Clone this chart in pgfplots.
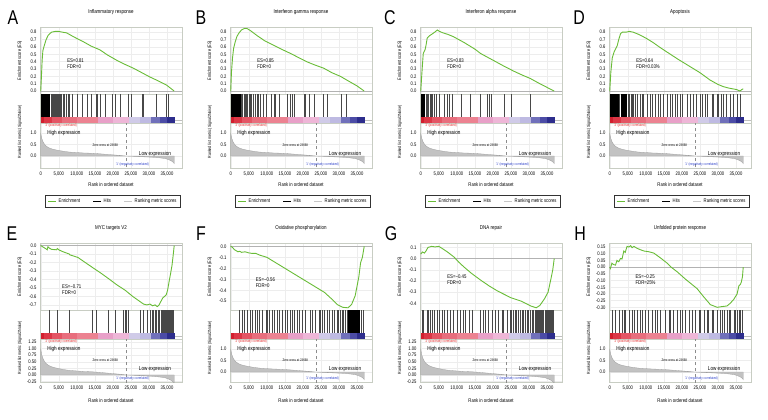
\documentclass[border=0pt]{standalone}
\usepackage{fontspec}
\setmainfont[FakeStretch=0.8]{Liberation Sans}
\usepackage{pgfplots}
\pgfplotsset{compat=1.18}
\usepackage{pgfplotstable}

\newcommand\fs[1]{\fontsize{#1}{#1}\selectfont}
\definecolor{esg}{RGB}{105,188,55}
\definecolor{frame}{RGB}{200,205,195}
\definecolor{poscol}{RGB}{225,40,40}
\definecolor{negcol}{RGB}{40,60,200}
\definecolor{b1}{RGB}{210,30,45}
\definecolor{b2}{RGB}{220,55,70}
\definecolor{b3}{RGB}{228,85,100}
\definecolor{b4}{RGB}{232,110,125}
\definecolor{b5}{RGB}{236,130,145}
\definecolor{b6}{RGB}{232,160,200}
\definecolor{b7}{RGB}{238,182,215}
\definecolor{b8}{RGB}{208,203,232}
\definecolor{b9}{RGB}{190,186,226}
\definecolor{b10}{RGB}{112,112,186}
\definecolor{b11}{RGB}{76,76,166}
\definecolor{b12}{RGB}{45,45,140}

\pgfplotstableread{
x y
0 0
0 1.0
0.1 0.9
0.3 0.76
0.6 0.63
1.0 0.52
1.5 0.43
2.2 0.36
3.0 0.31
4.0 0.27
5.0 0.24
6.5 0.2
8.0 0.17
10 0.15
12 0.13
14 0.12
16 0.1
18 0.075
20 0.05
22 0.025
23.668 0
25 -0.01
27 -0.025
29 -0.04
31 -0.055
33 -0.08
34.5 -0.11
35.5 -0.16
36.3 -0.22
36.8 -0.28
37 -0.33
37 0
}\rankdata

\pgfplotsset{
 gsbase/.style={scale only axis, width=142bp, xmin=-0.2, xmax=39.16, axis line style={frame},
   major tick length=0pt, xtick={0,5,10,15,20,25,30,35}, tick label style={font=\fs{5.2}},
   /pgf/number format/assume math mode=true, anchor=north west},
 esax/.style 2 args={gsbase, at={(#1bp+40bp,-#2bp-27bp)}, height=67bp, xticklabels={},
   grid=major, grid style={black!7}, ylabel={Enrichment score (ES)},
   ylabel style={font=\fs{4.9}, at={(axis description cs:-0.141,0.5)}, anchor=center},
   yticklabel style={/pgf/number format/.cd, fixed, fixed zerofill, precision=1},
   title style={font=\fs{5.6}, at={(axis description cs:0.5,1)}, anchor=center, yshift=9bp}},
 hitax/.style 2 args={gsbase, at={(#1bp+40bp,-#2bp-94bp)}, height=29bp, xticklabels={},
   ymin=-0.26, ymax=1, ytick=\empty},
 rankax/.style n args={3}{gsbase, at={(#1bp+40bp,-#2bp-123bp)}, height=#3,
   xticklabels={0,{5,000},{10,000},{15,000},{20,000},{25,000},{30,000},{35,000}},
   grid=major, grid style={black!7}, xlabel={Rank in ordered dataset},
   ylabel={Ranked list metric (Signal2Noise)},
   ylabel style={font=\fs{4.5}, at={(axis description cs:-0.141,0.8)}, anchor=center}},
 toprank/.style 2 args={rankax={#1}{#2}{45bp}, ymin=-0.52, ymax=1.43, ytick={0,0.5,1},
   yticklabel style={/pgf/number format/.cd, fixed, fixed zerofill, precision=1},
   xlabel style={font=\fs{5.3}, at={(axis description cs:0.5,-0.38)}, anchor=center},
   legend style={at={(0.514,-0.6)}, anchor=north, legend columns=3, draw=black!80, line width=0.6bp,
     font=\fs{5.3}, inner xsep=2bp, inner ysep=1.5bp,
     /tikz/every even column/.append style={column sep=11bp}}},
 botrankA/.style 2 args={rankax={#1}{#2}{43bp}, ymin=-0.27, ymax=1.365,
   ytick={-0.25,0,0.25,0.5,0.75,1,1.25},
   yticklabel style={/pgf/number format/.cd, fixed, fixed zerofill, precision=2},
   xlabel style={font=\fs{5.3}, at={(axis description cs:0.5,-0.44)}, anchor=center}},
 botrankB/.style 2 args={rankax={#1}{#2}{43bp}, ymin=-0.43, ymax=1.43, ytick={0,0.5,1},
   yticklabel style={/pgf/number format/.cd, fixed, fixed zerofill, precision=1},
   xlabel style={font=\fs{5.3}, at={(axis description cs:0.5,-0.44)}, anchor=center}},
 esline/.style={esg, line width=0.9bp},
 hitline/.style={ycomb, black!72, line width=0.4bp},
}

\newcommand\zeroline{\addplot[black!30, line width=0.4bp] coordinates {(-0.2,0)(39.16,0)};}
\newcommand\blk[2]{\addplot[fill=black, draw=none] coordinates {(#1,0)(#2,0)(#2,1)(#1,1)} -- cycle;}
\newcommand\bb[3]{\addplot[fill=#3, draw=none] coordinates {(#1,-0.26)(#2,-0.26)(#2,0)(#1,0)} -- cycle;}
\newcommand\band{%
 \addplot[black!25, line width=0.3bp] coordinates {(37.2,-0.13)(39.16,-0.13)};
 \bb{0}{1}{b1}\bb{1}{3}{b2}\bb{3}{6}{b3}\bb{6}{10}{b4}\bb{10}{16}{b5}\bb{16}{20}{b6}
 \bb{20}{24.4}{b7}\bb{24.4}{27.5}{b8}\bb{27.5}{30.5}{b9}\bb{30.5}{33}{b10}\bb{33}{35}{b11}\bb{35}{37.2}{b12}}
\newcommand\rankcontent{%
 \addplot[fill=black!24, draw=black!38, line width=0.3bp, forget plot] table {\rankdata} -- cycle;
 \addplot[black!45, dashed, line width=0.3bp, forget plot] coordinates {(23.668,-1)(23.668,2)};
 \node[anchor=north west, font=\fs{3.7}, text=poscol, inner sep=0.5bp] at (rel axis cs:0.03,1) {'2' (positively correlated)};
 \node[anchor=west, font=\fs{5.8}, inner sep=0pt] at (rel axis cs:0.05,0.775) {High expression};
 \node[font=\fs{3.6}, inner sep=0pt] at (rel axis cs:0.46,0.5) {Zero cross at 23668};
 \node[font=\fs{5.8}, inner sep=0pt] at (rel axis cs:0.81,0.3) {Low expression};
 \node[font=\fs{3.7}, text=negcol, inner sep=0pt] at (rel axis cs:0.65,0.07) {'1' (negatively correlated)};}
\newcommand\legendentries{%
 \addlegendimage{legend image code/.code={\draw[draw=esg, line width=1.2bp] (0bp,0bp) -- (8bp,0bp);}}\addlegendentry{Enrichment}
 \addlegendimage{legend image code/.code={\draw[draw=black, line width=0.7bp] (0bp,0bp) -- (8bp,0bp);}}\addlegendentry{Hits}
 \addlegendimage{legend image code/.code={\draw[draw=black!22, line width=0.7bp] (0bp,0bp) -- (8bp,0bp);}}\addlegendentry{Ranking metric scores}}
\newcommand\estext[3]{\node[anchor=west, align=left, font=\fontsize{5.4}{6.3}\selectfont, inner sep=0pt] at (axis cs:#1,#2) {#3};}

\begin{document}
\begin{tikzpicture}
\useasboundingbox (0,0) rectangle (768bp,-420bp);
\foreach \L/\X/\Y in {A/13/17.5,B/201/17.5,C/390/17.5,D/579/17.5,E/12/233.5,F/201/233.5,G/391/233.5,H/580/233.5}
  \node[font=\fs{20}, inner sep=0pt] at (\X bp,-\Y bp) {\L};

% ---------------- A ----------------
\begin{axis}[esax={0}{0}, ymin=-0.04, ymax=0.87, ytick={0,0.1,0.2,0.3,0.4,0.5,0.6,0.7,0.8}, title={Inflammatory response}]
\zeroline
\addplot[esline] coordinates {(0,0)(0.2,0.2)(0.4,0.42)(0.6,0.55)(1,0.62)(1.5,0.7)(2.1,0.76)(3,0.8)(4,0.81)(5,0.81)(6,0.8)(7.2,0.79)(9,0.74)(11.8,0.67)(14,0.61)(16.4,0.56)(18.5,0.49)(21,0.42)(23,0.37)(25.7,0.31)(28,0.25)(30.3,0.19)(32.5,0.14)(34.9,0.08)(37,0)};
\estext{7.3}{0.37}{ES=0.81\\FDR=0}
\end{axis}
\begin{axis}[hitax={0}{0}]
\blk{0}{2.6}
\addplot[hitline] coordinates {(2.8,1)(3.0,1)(3.2,1)(3.5,1)(3.7,1)(3.9,1)(4.1,1)(4.3,1)(4.6,1)(4.9,1)(5.0,1)(5.3,1)(5.6,1)(5.8,1)(6.2,1)(6.6,1)(7.1,1)(7.6,1)(8.0,1)(8.6,1)(10.0,1)(11.4,1)(12.9,1)(14.1,1)(15.3,1)(15.6,1)(16.4,1)(17.8,1)(19.7,1)(20.6,1)(22.0,1)(24.3,1)(25.2,1)(28.0,1)(28.5,1)(32.0,1)(34.9,1)(35.4,1)};
\band
\end{axis}
\begin{axis}[toprank={0}{0}]
\rankcontent
\legendentries
\end{axis}

% ---------------- B ----------------
\begin{axis}[esax={190}{0}, ymin=-0.04, ymax=0.87, ytick={0,0.1,0.2,0.3,0.4,0.5,0.6,0.7,0.8}, title={Interferon gamma response}]
\zeroline
\addplot[esline] coordinates {(0,0)(0.2,0.25)(0.5,0.45)(0.8,0.58)(1.2,0.66)(1.7,0.74)(2.3,0.79)(3,0.83)(3.8,0.85)(4.5,0.85)(5.5,0.82)(7.4,0.75)(9.5,0.68)(12,0.62)(14,0.57)(16.6,0.51)(19,0.45)(21,0.4)(23,0.36)(25.8,0.31)(28,0.25)(30.4,0.2)(32.5,0.14)(35,0.07)(37,0)};
\estext{7.3}{0.37}{ES=0.85\\FDR=0}
\end{axis}
\begin{axis}[hitax={190}{0}]
\blk{0}{2.8}
\addplot[hitline] coordinates {(3.0,1)(3.3,1)(3.6,1)(3.9,1)(4.2,1)(4.6,1)(5.0,1)(5.4,1)(5.8,1)(6.3,1)(6.8,1)(7.2,1)(7.7,1)(8.3,1)(9.0,1)(9.7,1)(11.1,1)(12.0,1)(12.4,1)(13.4,1)(15.7,1)(16.6,1)(17.1,1)(17.5,1)(20.3,1)(20.7,1)(21.7,1)(23.2,1)(25.6,1)(26.7,1)(30.7,1)(32.1,1)};
\band
\end{axis}
\begin{axis}[toprank={190}{0}]
\rankcontent
\legendentries
\end{axis}

% ---------------- C ----------------
\begin{axis}[esax={380}{0}, ymin=-0.04, ymax=0.87, ytick={0,0.1,0.2,0.3,0.4,0.5,0.6,0.7,0.8}, title={Interferon alpha response}]
\zeroline
\addplot[esline] coordinates {(0,0)(0.4,0.3)(0.7,0.51)(1.2,0.56)(1.5,0.63)(1.8,0.72)(2.4,0.75)(2.7,0.76)(3.3,0.78)(3.9,0.8)(4.6,0.83)(5.2,0.81)(6.2,0.79)(7.5,0.77)(9,0.74)(12,0.66)(15,0.57)(16.6,0.51)(20,0.42)(23,0.34)(25.8,0.27)(28,0.22)(30.4,0.17)(33,0.1)(35,0.05)(37,0)};
\estext{7.3}{0.37}{ES=0.83\\FDR=0}
\end{axis}
\begin{axis}[hitax={380}{0}]
\blk{0}{1.2}
\addplot[hitline] coordinates {(1.4,1)(1.6,1)(1.8,1)(2.0,1)(2.2,1)(2.5,1)(2.8,1)(3.2,1)(3.7,1)(4.2,1)(5.1,1)(6.5,1)(7.4,1)(7.8,1)(8.8,1)(11.1,1)(13.6,1)(16.4,1)(18.3,1)(19.0,1)(19.4,1)(23.2,1)(25.2,1)(30.3,1)};
\band
\end{axis}
\begin{axis}[toprank={380}{0}]
\rankcontent
\legendentries
\end{axis}

% ---------------- D ----------------
\begin{axis}[esax={569}{0}, ymin=-0.04, ymax=0.87, ytick={0,0.1,0.2,0.3,0.4,0.5,0.6,0.7,0.8}, title={Apoptosis}]
\zeroline
\addplot[esline] coordinates {(0,0)(0.3,0.25)(0.7,0.45)(1.2,0.53)(1.6,0.57)(2.1,0.62)(2.5,0.7)(3,0.78)(3.5,0.8)(4.5,0.8)(5.5,0.81)(6.5,0.8)(8,0.77)(10,0.72)(12,0.66)(14,0.59)(16.8,0.5)(19,0.43)(22,0.34)(25,0.25)(27.8,0.15)(30,0.09)(31.5,0.06)(33,0.04)(35.2,0.02)(36.1,0)(36.6,0.02)(37,0.03)};
\estext{7.3}{0.37}{ES=0.64\\FDR=0.03\%}
\end{axis}
\begin{axis}[hitax={569}{0}]
\blk{0}{2.5}\blk{3.0}{4.8}
\addplot[hitline] coordinates {(2.7,1)(5.1,1)(5.5,1)(5.9,1)(6.2,1)(6.6,1)(7.1,1)(7.6,1)(8.5,1)(8.9,1)(9.4,1)(10.3,1)(11.2,1)(11.7,1)(12.6,1)(13.5,1)(14.0,1)(14.9,1)(15.8,1)(16.8,1)(17.2,1)(18.1,1)(18.6,1)(19.5,1)(20.0,1)(21.4,1)(22.3,1)(23.2,1)(24.1,1)(25.1,1)(25.5,1)(26.4,1)(26.9,1)(28.3,1)(28.7,1)(29.7,1)(30.1,1)(31.0,1)(31.5,1)(32.4,1)(33.3,1)(34.3,1)(35.2,1)(36.1,1)};
\band
\end{axis}
\begin{axis}[toprank={569}{0}]
\rankcontent
\legendentries
\end{axis}

% ---------------- E ----------------
\begin{axis}[esax={0}{216}, ymin=-0.76, ymax=0.03, ytick={-0.7,-0.6,-0.5,-0.4,-0.3,-0.2,-0.1,0}, title={MYC targets V2}]
\zeroline
\addplot[esline] coordinates {(0,0)(1.5,-0.04)(1.8,-0.05)(2,-0.015)(2.4,-0.03)(3,-0.045)(4.4,-0.05)(4.6,-0.035)(5,-0.05)(6,-0.07)(7.9,-0.1)(8.1,-0.11)(10.3,-0.14)(12,-0.19)(14.4,-0.26)(16.5,-0.32)(18.8,-0.39)(21,-0.46)(23.5,-0.53)(25.5,-0.6)(27.5,-0.66)(28.5,-0.69)(29.4,-0.7)(30.3,-0.69)(31,-0.71)(31.7,-0.7)(32.3,-0.72)(32.8,-0.7)(33.3,-0.66)(33.8,-0.62)(34.3,-0.6)(34.8,-0.58)(35.2,-0.52)(35.6,-0.42)(36,-0.33)(36.4,-0.23)(36.7,-0.12)(37,0)};
\estext{5.9}{-0.52}{ES=−0.71\\FDR=0}
\end{axis}
\begin{axis}[hitax={0}{216}]
\addplot[hitline] coordinates {(2.4,1)(4.6,1)(7.9,1)(14.4,1)(15.5,1)(18.8,1)(20.6,1)(22.9,1)(23.4,1)(23.7,1)(24.3,1)(27.5,1)(28.5,1)(29.4,1)(30.3,1)(30.8,1)(31.3,1)(31.7,1)(32.1,1)(32.5,1)(32.9,1)(33.3,1)(33.6,1)(33.9,1)(34.1,1)(34.4,1)(34.6,1)(34.9,1)(35.1,1)(35.4,1)(35.6,1)(35.9,1)(36.1,1)(36.4,1)(36.6,1)};
\band
\end{axis}
\begin{axis}[botrankA={0}{216}]
\rankcontent
\end{axis}

% ---------------- F ----------------
\begin{axis}[esax={190}{216}, ymin=-0.58, ymax=0.03, ytick={-0.5,-0.4,-0.3,-0.2,-0.1,0}, title={Oxidative phosphorylation}]
\zeroline
\addplot[esline] coordinates {(0,0)(0.5,-0.01)(1,-0.03)(1.5,-0.04)(2,-0.05)(2.5,-0.045)(3,-0.055)(4,-0.05)(5,-0.06)(6,-0.065)(7,-0.065)(8,-0.08)(10,-0.1)(12,-0.14)(15,-0.2)(18,-0.26)(21,-0.32)(24,-0.38)(26,-0.42)(28,-0.48)(29.5,-0.53)(31,-0.555)(32.5,-0.56)(33.5,-0.53)(34.5,-0.45)(35.5,-0.28)(36,-0.15)(36.5,-0.1)(37,0)};
\estext{6.9}{-0.33}{ES=−0.56\\FDR=0}
\end{axis}
\begin{axis}[hitax={190}{216}]
\blk{32.5}{35.8}
\addplot[hitline] coordinates {(2.3,1)(3.2,1)(3.7,1)(4.6,1)(5.5,1)(6.0,1)(6.9,1)(7.4,1)(7.8,1)(8.7,1)(9.7,1)(10.1,1)(10.6,1)(11.5,1)(12.0,1)(12.9,1)(13.4,1)(14.3,1)(15.2,1)(15.7,1)(16.6,1)(17.0,1)(17.5,1)(18.4,1)(18.9,1)(19.8,1)(20.7,1)(22.1,1)(22.6,1)(23.5,1)(24.4,1)(24.9,1)(25.3,1)(25.8,1)(26.7,1)(27.2,1)(28.1,1)(28.6,1)(29.5,1)(29.9,1)(30.4,1)(30.9,1)(31.3,1)(31.8,1)(32.2,1)(36.2,1)(36.6,1)};
\band
\end{axis}
\begin{axis}[botrankB={190}{216}]
\rankcontent
\end{axis}

% ---------------- G ----------------
\begin{axis}[esax={380}{216}, ymin=-0.46, ymax=0.14, ytick={-0.4,-0.3,-0.2,-0.1,0,0.1}, title={DNA repair}]
\zeroline
\addplot[esline] coordinates {(0,0.04)(0.5,0.06)(1,0.05)(1.5,0.07)(2,0.1)(3,0.11)(4,0.105)(5,0.11)(6,0.09)(7.4,0.06)(9.2,0.015)(10.5,-0.03)(12,-0.075)(14,-0.13)(16.5,-0.19)(19,-0.245)(21.3,-0.29)(25,-0.35)(27.8,-0.38)(30.6,-0.425)(32,-0.44)(33,-0.42)(34.3,-0.36)(35.3,-0.3)(36.1,-0.18)(36.6,-0.1)(37,0)};
\estext{7.3}{-0.19}{ES=−0.45\\FDR=0}
\end{axis}
\begin{axis}[hitax={380}{216}]
\addplot[hitline] coordinates {(0.4,1)(0.8,1)(1.7,1)(2.2,1)(2.7,1)(3.1,1)(3.6,1)(4.5,1)(5.0,1)(5.9,1)(6.4,1)(7.3,1)(8.2,1)(9.1,1)(10.0,1)(10.9,1)(11.9,1)(12.3,1)(13.3,1)(14.2,1)(16.6,1)(17.4,1)(17.9,1)(18.8,1)(19.7,1)(20.6,1)(21.6,1)(22.5,1)(22.9,1)(23.9,1)(24.8,1)(25.2,1)(25.7,1)(26.2,1)(26.6,1)(27.1,1)(27.5,1)(28.0,1)(28.5,1)(28.9,1)(29.4,1)(29.8,1)(30.3,1)(30.8,1)(31.3,1)(31.7,1)};
\addplot[hitline, line width=0.55bp] coordinates {(32.0,1)(32.3,1)(32.6,1)(32.9,1)(33.2,1)(33.5,1)(33.8,1)(34.1,1)(34.4,1)(34.7,1)(35.0,1)(35.3,1)(35.6,1)(35.9,1)(36.2,1)(36.5,1)(36.8,1)};
\band
\end{axis}
\begin{axis}[botrankA={380}{216}]
\rankcontent
\end{axis}

% ---------------- H ----------------
\begin{axis}[esax={569}{216}, ymin=-0.32, ymax=0.18, ytick={-0.3,-0.25,-0.2,-0.15,-0.1,-0.05,0,0.05,0.1,0.15}, yticklabel style={/pgf/number format/precision=2}, title={Unfolded protein response}]
\zeroline
\addplot[esline] coordinates {(0,0)(0.2,-0.01)(0.6,0.03)(1,0.02)(1.6,0.015)(2,0.05)(2.5,0.04)(3,0.065)(3.4,0.06)(3.9,0.12)(4.3,0.11)(4.8,0.155)(5.3,0.15)(5.8,0.16)(6.2,0.145)(6.7,0.155)(7.6,0.14)(8.5,0.13)(9.5,0.12)(10.8,0.115)(12.2,0.105)(14,0.07)(15.9,0.03)(17,0.0)(18.7,-0.035)(21,-0.09)(24.2,-0.16)(26,-0.22)(27.9,-0.28)(29.8,-0.3)(31,-0.295)(32.5,-0.29)(33.4,-0.27)(34.4,-0.24)(35.3,-0.2)(35.8,-0.14)(36.2,-0.13)(36.5,-0.11)(36.8,-0.07)(37,0)};
\estext{7.1}{-0.095}{ES=−0.25\\FDR=25\%}
\end{axis}
\begin{axis}[hitax={569}{216}]
\addplot[hitline] coordinates {(0.6,1)(1.6,1)(2.5,1)(3.4,1)(3.9,1)(4.3,1)(5.3,1)(6.2,1)(6.7,1)(7.6,1)(8.5,1)(9.0,1)(9.9,1)(10.8,1)(11.7,1)(12.7,1)(13.1,1)(14.0,1)(15.4,1)(16.4,1)(16.8,1)(17.7,1)(18.7,1)(19.6,1)(20.1,1)(21.0,1)(21.9,1)(22.8,1)(23.7,1)(24.7,1)(25.1,1)(26.1,1)(27.0,1)(27.4,1)(28.4,1)(28.8,1)(29.8,1)(30.7,1)(31.1,1)(31.6,1)(32.5,1)(33.0,1)(33.4,1)(34.4,1)(34.8,1)(35.3,1)(35.8,1)(36.2,1)(36.7,1)};
\band
\end{axis}
\begin{axis}[botrankB={569}{216}]
\rankcontent
\end{axis}
\end{tikzpicture}
\end{document}
